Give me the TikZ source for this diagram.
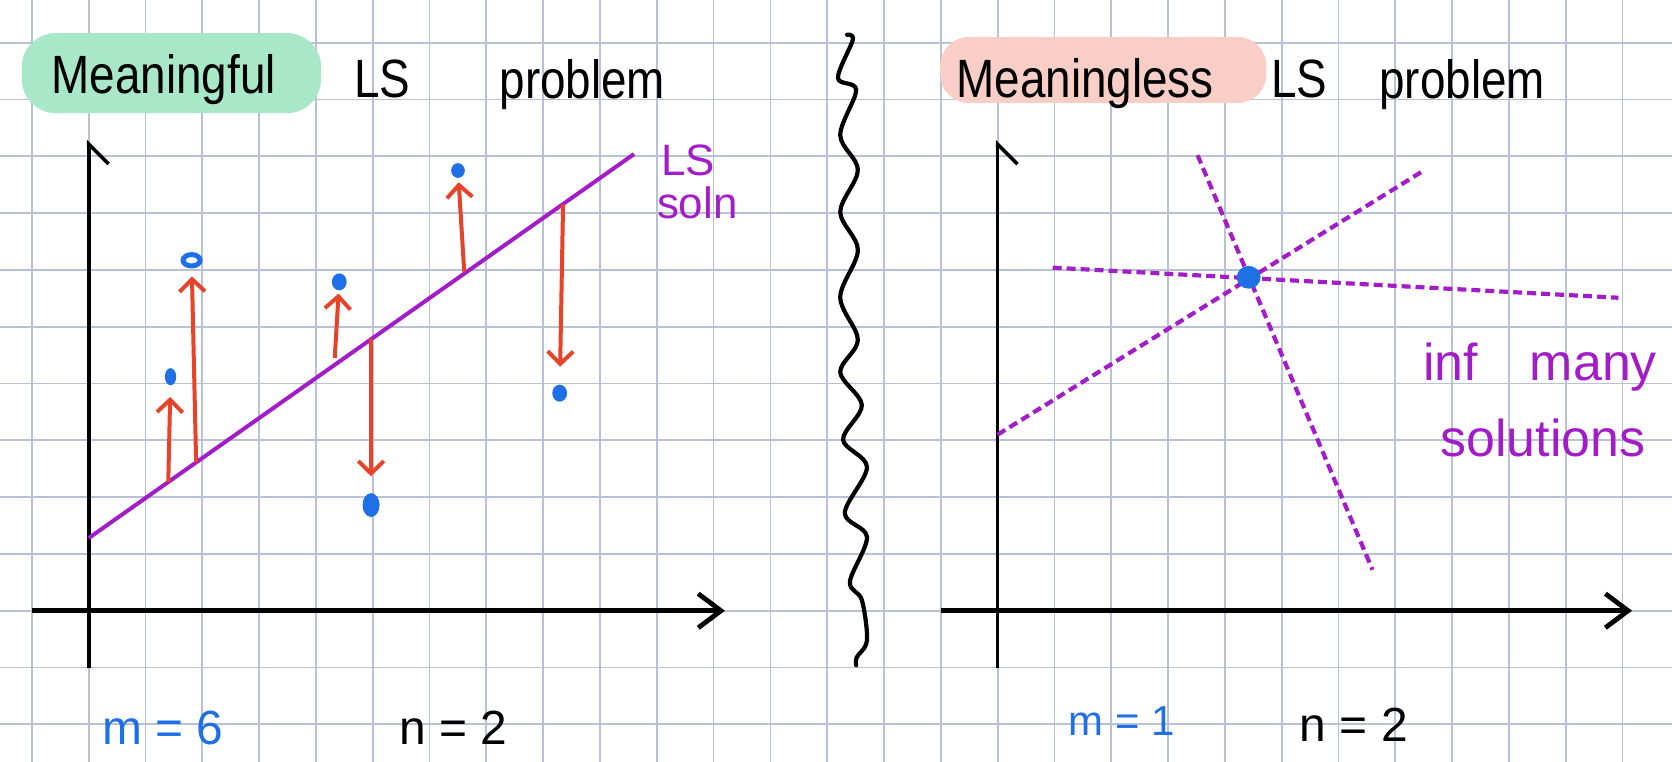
\documentclass[tikz,border=0pt]{standalone}
\usepackage{fontspec}
\setmainfont{Liberation Sans}
\newfontfamily\headfont{Liberation Sans}[FakeStretch=0.85]
\usetikzlibrary{arrows.meta,shapes.geometric}
\definecolor{gridblue}{HTML}{B8C2D6}
\definecolor{lspurple}{HTML}{A21DC8}
\definecolor{resred}{HTML}{E6432B}
\definecolor{ptblue}{HTML}{1F6FE5}
\definecolor{mintgreen}{HTML}{A9E7C9}
\definecolor{blushpink}{HTML}{F8CEC7}

\begin{document}
\begin{tikzpicture}[
  gridline/.style={draw=gridblue, line width=0.9pt},
  xaxis/.style={line width=2.4pt, -{Straight Barb[length=0.4cm,width=0.6cm]}},
  yaxis/.style={line width=1.8pt, -{Straight Barb[harpoon,swap,length=0.35cm,width=0.7cm]}},
  head/.style={anchor=base, font=\headfont\fontsize{27}{30}\selectfont},
  count/.style={anchor=base, font=\fontsize{24}{28}\selectfont},
  lsline/.style={draw=lspurple, line width=2pt},
  resid/.style={draw=resred, line width=2pt, -{Straight Barb[length=0.22cm,width=0.45cm]}},
  datapt/.style={ellipse, fill=ptblue, inner sep=0pt, minimum width=0.24cm, minimum height=0.3cm},
  solline/.style={draw=lspurple, line width=2.1pt, dash pattern=on 4.5pt off 2.5pt},
  note/.style={text=lspurple, anchor=base, font=\fontsize{26}{30}\selectfont}
]
\useasboundingbox (-0.563,0.752) rectangle (28.873,-12.663);
\fill[white] (-0.563,0.752) rectangle (28.873,-12.663);
\draw[gridline] (-0.563,0.752) grid (28.873,-12.663);

\fill[mintgreen, rounded corners=0.6cm] (-0.18,0.17) rectangle (5.09,-1.24);
\fill[blushpink, rounded corners=0.5cm] (15.99,0.1) rectangle (21.73,-1.06);
\node[head] (meaningful) at (2.32,-0.89) {Meaningful};
\node[head] (lsleft) at (6.17,-0.96) {LS};
\node[head] (probleft) at (9.69,-0.98) {problem};
\node[head] (meaningless) at (18.54,-0.96) {Meaningless};
\node[head] (lsright) at (22.31,-0.96) {LS};
\node[head] (probright) at (25.18,-0.98) {problem};

\coordinate (xs1) at (0,-10);
\coordinate (xe1) at (12.2,-10);
\coordinate (ys1) at (1,-11);
\coordinate (ye1) at (1,-1.71);
\draw[xaxis] (xs1) -- (xe1);
\draw[yaxis] (ys1) -- (ye1);

\coordinate (ls0) at (1,-8.72);
\coordinate (ls1) at (10.6,-1.96);
\draw[lsline] (ls0) -- (ls1);
\node[text=lspurple, anchor=base west, font=\fontsize{22}{24}\selectfont] (lsname) at (10.95,-2.33) {LS};
\node[text=lspurple, anchor=base west, font=\fontsize{22}{24}\selectfont] (solnname) at (10.88,-3.09) {soln};

\node[datapt, minimum width=0.2cm] (p1) at (2.44,-5.88) {};
\node[datapt, fill=white, draw=ptblue, line width=2.5pt, minimum width=0.3cm, minimum height=0.2cm] (p2) at (2.81,-3.83) {};
\node[datapt, minimum width=0.26cm] (p3) at (5.41,-4.21) {};
\node[datapt, minimum height=0.26cm] (p4) at (7.50,-2.25) {};
\node[datapt, minimum width=0.26cm] (p5) at (9.29,-6.17) {};
\node[datapt, minimum width=0.3cm, minimum height=0.42cm] (p6) at (5.97,-8.14) {};

\coordinate (f1) at (2.40,-7.73);
\coordinate (f2) at (2.89,-7.39);
\coordinate (f3) at (5.33,-5.55);
\coordinate (f4) at (7.61,-4.03);
\coordinate (f5) at (9.35,-2.84);
\coordinate (f6) at (5.97,-5.22);
\foreach \i/\s in {1/0.2,2/0.14,3/0.05,4/0.07,5/0.31,6/0.29}
  \draw[resid, shorten >=\s cm] (f\i) -- (p\i);

\draw[line width=2.1pt, line cap=round] plot[smooth, tension=0.55] coordinates {
  (14.35,0.14) (14.45,0.05) (14.19,-0.62) (14.51,-0.83) (14.23,-1.63)
  (14.54,-2.24) (14.23,-2.98) (14.54,-3.65) (14.23,-4.48) (14.54,-5.23)
  (14.23,-5.80) (14.61,-6.38) (14.28,-6.99) (14.70,-7.47) (14.31,-8.28)
  (14.70,-8.70) (14.40,-9.49) (14.61,-9.81) (14.70,-10.52) (14.52,-10.82)
  (14.51,-10.96)};

\coordinate (xs2) at (16,-10);
\coordinate (xe2) at (28.17,-10);
\coordinate (ys2) at (17,-11);
\coordinate (ye2) at (17,-1.71);
\draw[xaxis] (xs2) -- (xe2);
\draw[yaxis] (ys2) -- (ye2);

\coordinate (a1) at (20.52,-1.98);
\coordinate (b1) at (23.60,-9.28);
\coordinate (a2) at (17,-6.9);
\coordinate (b2) at (24.47,-2.27);
\coordinate (a3) at (17.97,-3.96);
\coordinate (b3) at (27.93,-4.49);
\draw[solline] (a1) -- (b1);
\draw[solline] (a2) -- (b2);
\draw[solline] (a3) -- (b3);
\node[datapt, minimum width=0.42cm, minimum height=0.4cm] (sol) at (21.42,-4.13) {};

\node[note] (infmany) at (26.55,-5.94) {inf\quad many};
\node[note] (solutions) at (26.6,-7.29) {solutions};

\node[count, text=ptblue] (mleft) at (2.30,-12.36) {m = 6};
\node[count] (nleft) at (7.42,-12.36) {n = 2};
\node[count, text=ptblue, font=\fontsize{21}{24}\selectfont] (mright) at (19.19,-12.19) {m = 1};
\node[count] (nright) at (23.27,-12.31) {n = 2};
\end{tikzpicture}
\end{document}
